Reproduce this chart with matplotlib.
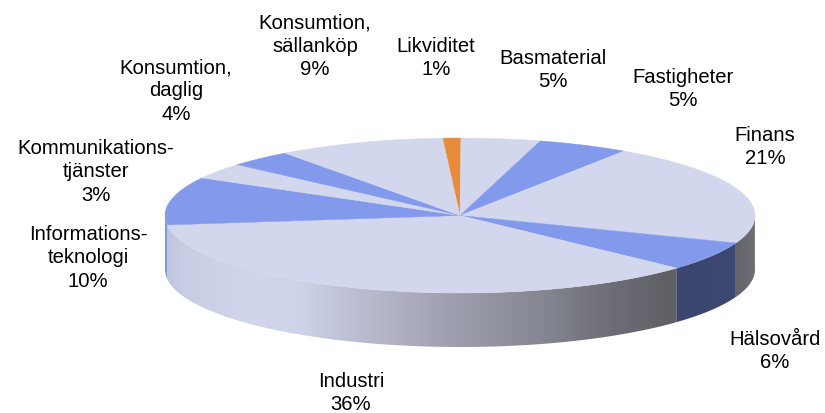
import numpy as np
import matplotlib
matplotlib.use('Agg')
import matplotlib.pyplot as plt
from matplotlib.patches import Polygon

plt.rcParams['font.family'] = ['Liberation Sans', 'DejaVu Sans']

# sector data, clockwise from the top
labels = ['Likviditet', 'Basmaterial', 'Fastigheter', 'Finans', 'Hälsovård', 'Industri',
          'Informations-\nteknologi', 'Kommunikations-\ntjänster', 'Konsumtion,\ndaglig',
          'Konsumtion,\nsällanköp']
values = [1, 5, 5, 21, 6, 36, 10, 3, 4, 9]

# label centres in pixels
label_x = [436, 553, 683, 765, 775, 351, 88, 96, 176, 315]
label_y = [58, 70, 89, 147, 351, 393, 258, 172, 91, 46]

top_colors = ['#E88C3A', '#D3D7ED', '#8399EC', '#D3D7ED', '#8399EC',
              '#D3D7ED', '#8399EC', '#D3D7ED', '#8399EC', '#D3D7ED']

# pie geometry in pixels
cx, cy = 460, 216.5
rx, ry = 295, 77.5
depth = 54
start = -3.4

# the perspective pushes the far edge around a little
warp_at = [0, 18, 36, 112, 133, 263, 300, 310, 324, 357, 360]
warp_by = [0, -2.4, -2.4, -1, -0.7, 0, 0, 1.2, -0.6, 0, 0]

# shading of the rim along x
ramp_x = [165, 185, 250, 300, 350, 400, 450, 500, 550, 600, 670, 737, 755]
ramp_r = [192, 200, 210, 207, 189, 174, 158, 144, 130, 112, 95, 98, 110]
ramp_g = [197, 205, 214, 211, 192, 176, 160, 146, 132, 113, 96, 100, 112]
ramp_b = [222, 228, 236, 232, 212, 194, 176, 159, 143, 121, 102, 106, 118]


def ell(t):
    t = np.asarray(t, dtype=float)
    t = t + np.interp(t % 360, warp_at, warp_by)
    t = np.radians(t)
    return cx + rx * np.sin(t), cy - ry * np.cos(t)


fig = plt.figure(figsize=(8.25, 4.14), dpi=100)
ax = fig.add_axes([0, 0, 1, 1])

edges = start + np.concatenate([[0], np.cumsum(values)]) * 360 / sum(values)

# rim gradient as a one row image, clipped to each sector
gx = np.arange(160, 761)
grad = np.dstack([np.interp(gx, ramp_x, ramp_r), np.interp(gx, ramp_x, ramp_g),
                  np.interp(gx, ramp_x, ramp_b)]) / 255
for i in range(len(values)):
    a0, a1 = max(edges[i], 90), min(edges[i + 1], 270)
    if a1 <= a0:
        continue
    t = np.linspace(a0, a1, 120)
    x, y = ell(t)
    if top_colors[i] == '#8399EC':
        if x.mean() < 300:
            img = np.full_like(grad, 0.0)
            img[..., 0], img[..., 1], img[..., 2] = 0.51, 0.60, 0.90
        else:
            img = np.clip(grad * [0.62, 0.72, 1.08], 0, 1)
    else:
        img = grad
    im = ax.imshow(img, extent=(160, 760, 414, 0), aspect='auto', interpolation='bilinear', zorder=2)
    im.set_clip_path(Polygon(np.c_[np.r_[x, x[::-1]], np.r_[y, y[::-1] + depth]],
                             transform=ax.transData))

# top face
for i in range(len(values)):
    t = np.linspace(edges[i], edges[i + 1], 80)
    x, y = ell(t)
    ax.fill(np.r_[cx, x], np.r_[cy, y], color=top_colors[i], lw=0.3, zorder=3)

for i in range(len(values)):
    ax.text(label_x[i], label_y[i], labels[i] + '\n' + str(values[i]) + '%', ha='center',
            va='center', fontsize=14.6, color='black', linespacing=1.27, zorder=5)

ax.set_xlim(0, 825)
ax.set_ylim(414, 0)
ax.axis('off')

fig.savefig('out.png', dpi=100)
